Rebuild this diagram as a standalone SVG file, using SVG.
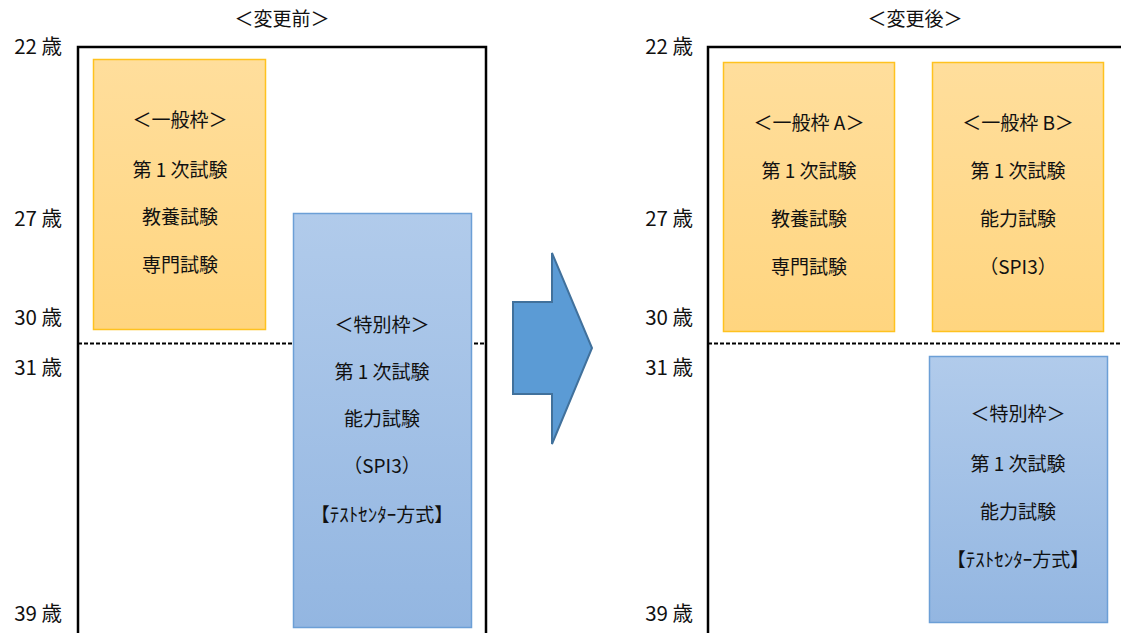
<svg xmlns="http://www.w3.org/2000/svg" width="1121" height="633" viewBox="0 0 1121 633">
<defs>
<linearGradient id="og" x1="0" y1="0" x2="0" y2="1"><stop offset="0" stop-color="#FFDE9C"/><stop offset="1" stop-color="#FFD57F"/></linearGradient>
<linearGradient id="bg" x1="0" y1="0" x2="0" y2="1"><stop offset="0" stop-color="#B1CBEB"/><stop offset="1" stop-color="#93B6E1"/></linearGradient>
</defs>
<style>
text{font-family:"Noto Sans CJK JP","Noto Sans",sans-serif;font-size:19px;fill:#111;}
.c{text-anchor:middle;}
.a{text-anchor:end;font-size:20.5px;}
.frame{fill:none;stroke:#000;stroke-width:2.5;}
.dash{stroke:#000;stroke-width:2.2;stroke-dasharray:4 2;}
.or{fill:url(#og);stroke:#FFC21F;stroke-width:1.5;}
.bl{fill:url(#bg);stroke:#6C9FD6;stroke-width:1.5;}
</style>
<rect width="1121" height="633" fill="#fff"/>
<g id="headers">
<text class="c" x="282" y="26">＜変更前＞</text>
<text class="c" x="915" y="26">＜変更後＞</text>
</g>
<g id="ages-left">
<text class="a" x="62" y="54">22 歳</text>
<text class="a" x="62" y="226">27 歳</text>
<text class="a" x="62" y="325">30 歳</text>
<text class="a" x="62" y="375">31 歳</text>
<text class="a" x="62" y="621">39 歳</text>
</g>
<g id="ages-right">
<text class="a" x="693" y="54">22 歳</text>
<text class="a" x="693" y="226">27 歳</text>
<text class="a" x="693" y="325">30 歳</text>
<text class="a" x="693" y="375">31 歳</text>
<text class="a" x="693" y="621">39 歳</text>
</g>
<g id="frames">
<polyline class="frame" points="78,640 78,47 486,47 486,640"/>
<polyline class="frame" points="708,640 708,47 1125,47"/>
<line class="dash" x1="78" y1="343.5" x2="486" y2="343.5"/>
<line class="dash" x1="708" y1="343.5" x2="1121" y2="343.5"/>
</g>
<g id="before-general">
<rect class="or" x="93.5" y="59.5" width="172" height="270"/>
<text class="c" x="180" y="127">＜一般枠＞</text>
<text class="c" x="180" y="177">第 1 次試験</text>
<text class="c" x="180" y="224">教養試験</text>
<text class="c" x="180" y="272">専門試験</text>
</g>
<g id="before-special">
<rect class="bl" x="293.5" y="213.5" width="178" height="414"/>
<text class="c" x="382" y="332">＜特別枠＞</text>
<text class="c" x="382" y="379">第 1 次試験</text>
<text class="c" x="382" y="426">能力試験</text>
<text class="c" x="382" y="473">（SPI3）</text>
<text class="c" x="382" y="522">【ﾃｽﾄｾﾝﾀｰ方式】</text>
</g>
<g id="arrow">
<polygon points="513,302 552,302 552,253 592,348 552,444 552,394 513,394" fill="#5B9BD5" stroke="#41719C" stroke-width="2"/>
</g>
<g id="after-general-a">
<rect class="or" x="723.5" y="62.5" width="171" height="269"/>
<text class="c" x="809" y="130">＜一般枠 A＞</text>
<text class="c" x="809" y="178">第 1 次試験</text>
<text class="c" x="809" y="226">教養試験</text>
<text class="c" x="809" y="274">専門試験</text>
</g>
<g id="after-general-b">
<rect class="or" x="932.5" y="62.5" width="171" height="269"/>
<text class="c" x="1018" y="130">＜一般枠 B＞</text>
<text class="c" x="1018" y="178">第 1 次試験</text>
<text class="c" x="1018" y="226">能力試験</text>
<text class="c" x="1018" y="274">（SPI3）</text>
</g>
<g id="after-special">
<rect class="bl" x="929.5" y="356.5" width="178" height="266"/>
<text class="c" x="1018" y="421">＜特別枠＞</text>
<text class="c" x="1018" y="471">第 1 次試験</text>
<text class="c" x="1018" y="519">能力試験</text>
<text class="c" x="1018" y="567">【ﾃｽﾄｾﾝﾀｰ方式】</text>
</g>
</svg>
